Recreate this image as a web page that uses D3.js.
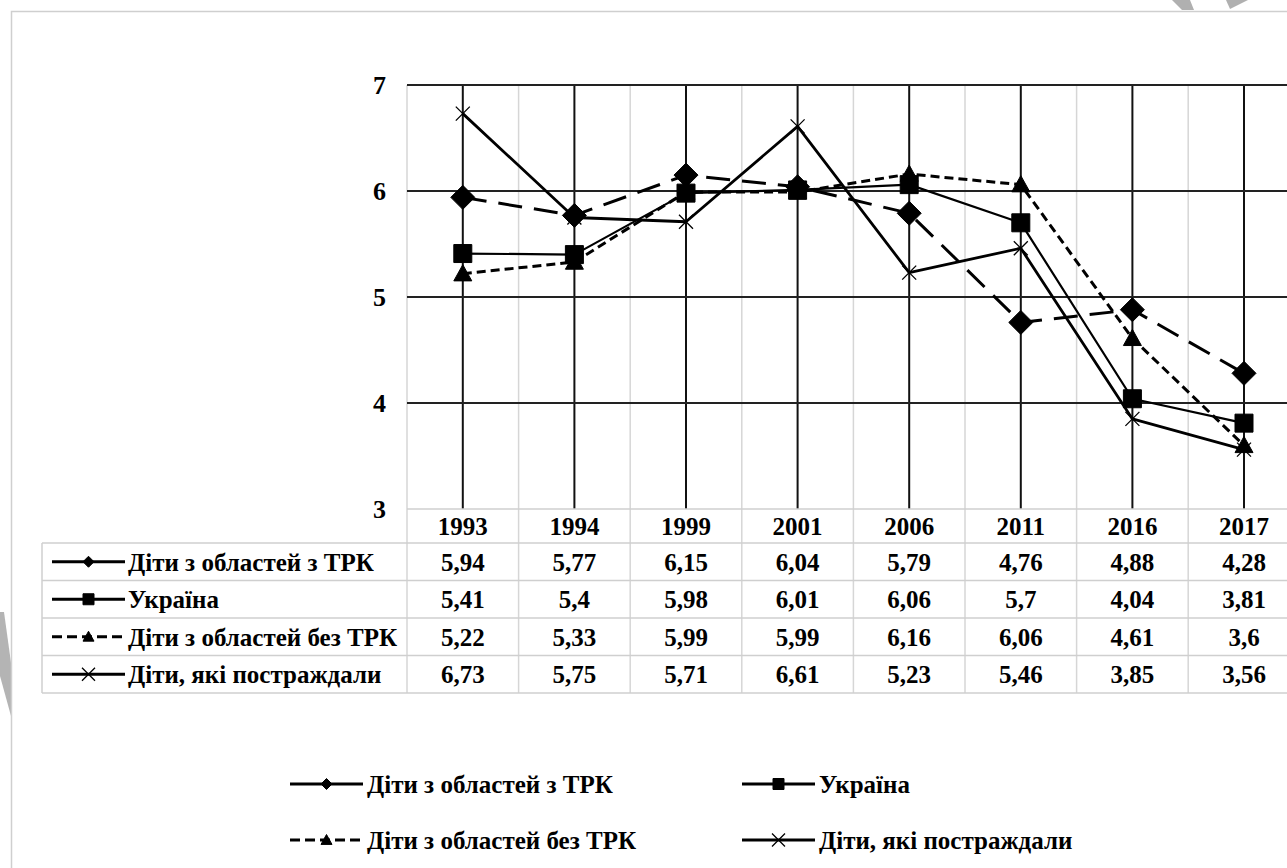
<!DOCTYPE html>
<html>
<head>
<meta charset="utf-8">
<script src="https://cdn.jsdelivr.net/npm/d3@7"></script>
<style>
  body { margin: 0; background: #fff; }
</style>
</head>
<body>
<script>
// data
const years = ["1993", "1994", "1999", "2001", "2006", "2011", "2016", "2017"];
const seriesNames = ["Діти з областей з ТРК", "Україна", "Діти з областей без ТРК", "Діти, які постраждали"];
const trk      = [5.94, 5.77, 6.15, 6.04, 5.79, 4.76, 4.88, 4.28];
const ukraine  = [5.41, 5.4, 5.98, 6.01, 6.06, 5.7, 4.04, 3.81];
const noTrk    = [5.22, 5.33, 5.99, 5.99, 6.16, 6.06, 4.61, 3.6];
const victims  = [6.73, 5.75, 5.71, 6.61, 5.23, 5.46, 3.85, 3.56];
const yTicks = [3, 4, 5, 6, 7];

const fmt = v => String(v).replace(".", ",");
const FONT = "'Liberation Serif', 'DejaVu Serif', 'Times New Roman', serif";
const FS = 25;

const series = [
  {name: seriesNames[0], values: trk,     dash: "24,12", width: 3,   marker: "diamond",  key: "solid"},
  {name: seriesNames[1], values: ukraine, dash: null,    width: 2.2, marker: "square",   key: "solid"},
  {name: seriesNames[2], values: noTrk,   dash: "9,5",   width: 3,   marker: "triangle", key: "dash"},
  {name: seriesNames[3], values: victims, dash: null,    width: 2.8, marker: "cross",    key: "solid"}
];

const W = 1287, H = 868;
const plotLeft = 407, plotTop = 85, plotBottom = 509;
const colW = 111.6;

const x = d3.scaleBand().domain(years).range([plotLeft, plotLeft + colW * years.length]).padding(0);
const cx = d => x(d) + x.bandwidth() / 2;
const y = d3.scaleLinear().domain([3, 7]).range([plotBottom, plotTop]);

const svg = d3.select("body").append("svg")
    .attr("width", W)
    .attr("height", H)
    .attr("viewBox", [0, 0, W, H])
    .style("font-family", FONT)
    .style("font-weight", "bold");

// watermark fragments
svg.append("path").attr("d", "M1172,0L1190,0L1194,10L1182,10Z").attr("fill", "#b0b0b0");
svg.append("path").attr("d", "M1226,0L1248,0L1230,9Z").attr("fill", "#b0b0b0");
svg.append("path").attr("d", "M0,612L4,612L12,670L11,716L0,676Z").attr("fill", "#b4b4b4");

// outer frame
svg.append("path")
    .attr("d", `M11.5,${H}L11.5,11.5L${W},11.5`)
    .attr("fill", "none")
    .attr("stroke", "#cfcfcf")
    .attr("stroke-width", 1.5);

function markerPath(type, s) {
  const p = d3.path();
  if (type === "diamond") {
    p.moveTo(0, -s); p.lineTo(s, 0); p.lineTo(0, s); p.lineTo(-s, 0); p.closePath();
  } else if (type === "square") {
    p.rect(-s, -s, 2 * s, 2 * s);
  } else if (type === "triangle") {
    p.moveTo(0, -s); p.lineTo(s, s * 0.8); p.lineTo(-s, s * 0.8); p.closePath();
  } else {
    p.moveTo(-s, -s); p.lineTo(s, s); p.moveTo(s, -s); p.lineTo(-s, s);
  }
  return p.toString();
}
const markerSize = {diamond: 12, square: 9, triangle: 9, cross: 7};

// light gridlines at category boundaries (run through the table too)
const bounds = years.map(d => x(d)).concat([x(years[years.length - 1]) + x.bandwidth()]);
svg.append("g").selectAll("line").data(bounds).join("line")
    .attr("x1", d => d).attr("x2", d => d)
    .attr("y1", plotTop).attr("y2", 693)
    .attr("stroke", "#d6d6d6").attr("stroke-width", 1.5);

// dark vertical gridlines at category centres
svg.append("g").selectAll("line").data(years).join("line")
    .attr("x1", d => cx(d)).attr("x2", d => cx(d))
    .attr("y1", plotTop).attr("y2", plotBottom)
    .attr("stroke", "#111").attr("stroke-width", 2);

// horizontal gridlines
svg.append("g").selectAll("line").data(yTicks.filter(d => d > 3)).join("line")
    .attr("x1", plotLeft).attr("x2", W)
    .attr("y1", d => y(d)).attr("y2", d => y(d))
    .attr("stroke", "#222").attr("stroke-width", 2);

// y labels
svg.append("g").selectAll("text").data(yTicks).join("text")
    .attr("x", 386).attr("y", d => y(d))
    .attr("dy", "0.35em")
    .attr("text-anchor", "end")
    .attr("font-size", 26)
    .text(d => d);

// lines
const line = d3.line().x((d, i) => cx(years[i])).y(d => y(d));
svg.append("g").selectAll("path").data(series).join("path")
    .attr("d", d => line(d.values))
    .attr("fill", "none")
    .attr("stroke", "#000")
    .attr("stroke-width", d => d.width)
    .attr("stroke-dasharray", d => d.dash)
    .attr("stroke-linejoin", "round");

// markers
series.forEach(s => {
  svg.append("g").selectAll("path").data(s.values).join("path")
      .attr("transform", (d, i) => `translate(${cx(years[i])},${y(d)})`)
      .attr("d", markerPath(s.marker, markerSize[s.marker]))
      .attr("fill", s.marker === "cross" ? "none" : "#000")
      .attr("stroke", "#000")
      .attr("stroke-width", s.marker === "cross" ? 1.3 : 1);
});

// data table
const tableLeft = 42, rowTop = 543, rowH = 37.5;
const tg = svg.append("g");
tg.append("line").attr("x1", plotLeft).attr("x2", W).attr("y1", plotBottom).attr("y2", plotBottom)
    .attr("stroke", "#cfcfcf").attr("stroke-width", 1.5);
tg.selectAll("line.h").data(d3.range(series.length + 1)).join("line")
    .attr("class", "h")
    .attr("x1", tableLeft).attr("x2", W)
    .attr("y1", i => rowTop + i * rowH).attr("y2", i => rowTop + i * rowH)
    .attr("stroke", "#cfcfcf").attr("stroke-width", 1.5);
tg.append("line").attr("x1", tableLeft).attr("x2", tableLeft)
    .attr("y1", rowTop).attr("y2", rowTop + series.length * rowH)
    .attr("stroke", "#cfcfcf").attr("stroke-width", 1.5);

// header years
tg.selectAll("text.yr").data(years).join("text")
    .attr("class", "yr")
    .attr("x", d => cx(d)).attr("y", (plotBottom + rowTop) / 2)
    .attr("dy", "0.35em").attr("text-anchor", "middle")
    .attr("font-size", FS)
    .text(d => d);

function legendKey(g, s, x0, x1, yy) {
  const k = g.append("g");
  k.append("line").attr("x1", x0).attr("x2", x1).attr("y1", yy).attr("y2", yy)
      .attr("stroke", "#000").attr("stroke-width", 3)
      .attr("stroke-dasharray", s.key === "dash" ? "10,5" : null);
  const sz = {diamond: 5.5, square: 5.5, triangle: 5.5, cross: 6.5}[s.marker];
  k.append("path")
      .attr("transform", `translate(${(x0 + x1) / 2},${yy})`)
      .attr("d", markerPath(s.marker, sz))
      .attr("fill", s.marker === "cross" ? "none" : "#000")
      .attr("stroke", "#000")
      .attr("stroke-width", s.marker === "cross" ? 1.3 : 1);
}

series.forEach((s, r) => {
  const yy = rowTop + r * rowH + rowH / 2;
  legendKey(tg, s, 52, 125, yy);
  tg.append("text").attr("x", 128).attr("y", yy).attr("dy", "0.35em")
      .attr("font-size", FS).text(s.name);
  tg.append("g").selectAll("text").data(s.values).join("text")
      .attr("x", (d, i) => cx(years[i])).attr("y", yy)
      .attr("dy", "0.35em").attr("text-anchor", "middle")
      .attr("font-size", FS)
      .text(d => fmt(d));
});

// bottom legend
const legendPos = [[290, 784], [742, 784], [290, 840], [742, 840]];
const lg = svg.append("g");
series.forEach((s, i) => {
  const [lx, ly] = legendPos[i];
  legendKey(lg, s, lx, lx + 73, ly);
  lg.append("text").attr("x", lx + 77).attr("y", ly).attr("dy", "0.35em")
      .attr("font-size", FS).text(s.name);
});
</script>
</body>
</html>
